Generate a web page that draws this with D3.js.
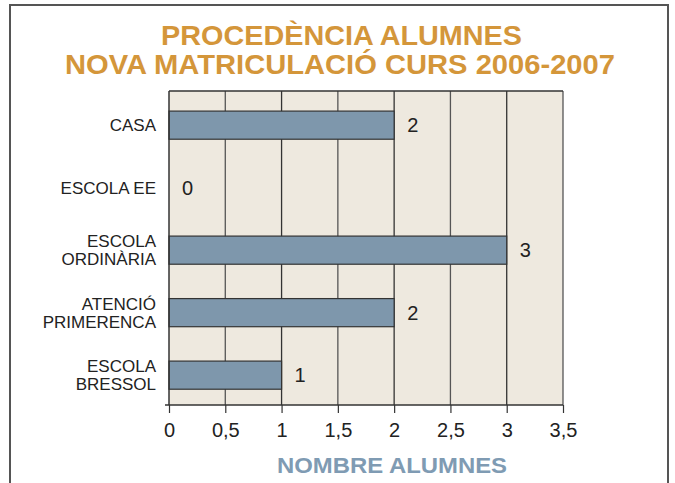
<!DOCTYPE html>
<html>
<head>
<meta charset="utf-8">
<script src="https://cdn.jsdelivr.net/npm/d3@7"></script>
<style>
  body { margin: 0; background: #fff; }
  svg { display: block; font-family: "Liberation Sans", Arial, sans-serif; }
</style>
</head>
<body>
<svg id="chart" width="675" height="483"></svg>
<script>
// chart data
var categories = ["CASA", "ESCOLA EE", "ESCOLA ORDINÀRIA", "ATENCIÓ PRIMERENCA", "ESCOLA BRESSOL"];
var category_lines = [["CASA"], ["ESCOLA EE"], ["ESCOLA", "ORDINÀRIA"], ["ATENCIÓ", "PRIMERENCA"], ["ESCOLA", "BRESSOL"]];
var values = [2, 0, 3, 2, 1];
var tick_values = [0, 0.5, 1, 1.5, 2, 2.5, 3, 3.5];
var title_lines = ["PROCEDÈNCIA ALUMNES", "NOVA MATRICULACIÓ CURS 2006-2007"];
var axis_title = "NOMBRE ALUMNES";

var svg = d3.select("#chart");

var plot = {left: 169, top: 91, right: 563, bottom: 405};

// pair each value with its category
var rows = categories.map(function(c, i) { return {cat: c, value: values[i], lines: category_lines[i]}; });

// outer frame
svg.append("path")
	.attr("d", "M10,490 L10,5 L668,5 L668,490")
	.attr("fill", "none")
	.attr("stroke", "#555")
	.attr("stroke-width", 2);

// title
var title_pos = [{y: 45, x1: 161, x2: 522}, {y: 74, x1: 65, x2: 615}];
title_lines.forEach(function(t, i)
{
	svg.append("text")
		.attr("x", title_pos[i].x1)
		.attr("y", title_pos[i].y)
		.attr("textLength", title_pos[i].x2 - title_pos[i].x1)
		.attr("lengthAdjust", "spacingAndGlyphs")
		.attr("font-size", 28)
		.attr("font-weight", "bold")
		.attr("fill", "#d4963a")
		.text(t);
});

var x = d3.scaleLinear().domain([0, 3.5]).range([plot.left, plot.right]);
var y = d3.scaleBand().domain(categories).range([plot.top, plot.bottom])
	.paddingInner(0.55).paddingOuter(0.287).align(0.56);

// plot background
svg.append("rect")
	.attr("x", plot.left)
	.attr("y", plot.top)
	.attr("width", plot.right - plot.left)
	.attr("height", plot.bottom - plot.top)
	.attr("fill", "#eee9df");

// vertical grid lines
svg.append("g").selectAll("line")
	.data(tick_values.slice(1))
	.join("line")
	.attr("x1", function(d) { return x(d); })
	.attr("x2", function(d) { return x(d); })
	.attr("y1", plot.top)
	.attr("y2", plot.bottom)
	.attr("stroke", function(d, i) { return i % 2 === 0 ? "#555" : "#333"; })
	.attr("stroke-width", 1.3);

// top border of plot
svg.append("line")
	.attr("x1", plot.left).attr("x2", plot.right)
	.attr("y1", plot.top).attr("y2", plot.top)
	.attr("stroke", "#333").attr("stroke-width", 1.3);

// bars (zero values draw nothing)
svg.append("g").selectAll("rect")
	.data(rows.filter(function(r) { return r.value > 0; }))
	.join("rect")
	.attr("x", x(0))
	.attr("y", function(r) { return y(r.cat); })
	.attr("width", function(r) { return x(r.value) - x(0); })
	.attr("height", y.bandwidth())
	.attr("fill", "#7e97ac")
	.attr("stroke", "#333")
	.attr("stroke-width", 1.2);

// value labels
svg.append("g").selectAll("text")
	.data(rows)
	.join("text")
	.attr("x", function(r) { return x(r.value) + 13; })
	.attr("y", function(r) { return y(r.cat) + y.bandwidth() / 2 + 7; })
	.attr("font-size", 20)
	.attr("fill", "#222")
	.text(function(r) { return r.value; });

// x axis
var x_axis = d3.axisBottom(x)
	.tickValues(tick_values)
	.tickSize(8)
	.tickPadding(10)
	.tickFormat(function(d) { return String(d).replace(".", ","); });

var gx = svg.append("g")
	.attr("transform", "translate(0," + plot.bottom + ")")
	.call(x_axis);
gx.select(".domain").attr("stroke", "#333").attr("stroke-width", 1.5)
	.attr("d", "M" + (plot.left - 4) + ",0H" + plot.right);
gx.selectAll(".tick line").attr("stroke", "#333").attr("stroke-width", 1.2);
gx.selectAll(".tick text")
	.attr("font-size", 20)
	.attr("font-family", "Liberation Sans, Arial, sans-serif")
	.attr("fill", "#222");

// y axis line
svg.append("line")
	.attr("x1", plot.left).attr("x2", plot.left)
	.attr("y1", plot.top).attr("y2", plot.bottom)
	.attr("stroke", "#333").attr("stroke-width", 1.5);

// category labels
rows.forEach(function(r)
{
	var cy = y(r.cat) + y.bandwidth() / 2;
	var t = svg.append("text")
		.attr("text-anchor", "end")
		.attr("font-size", 17)
		.attr("fill", "#222");
	r.lines.forEach(function(line, j)
	{
		var offset = (j - (r.lines.length - 1) / 2) * 18 + 6;
		t.append("tspan")
			.attr("x", 156)
			.attr("y", cy + offset)
			.text(line);
	});
});

// axis title
svg.append("text")
	.attr("x", 277)
	.attr("y", 473)
	.attr("textLength", 230)
	.attr("lengthAdjust", "spacingAndGlyphs")
	.attr("font-size", 22)
	.attr("font-weight", "bold")
	.attr("fill", "#7f9bb3")
	.text(axis_title);
</script>
</body>
</html>
